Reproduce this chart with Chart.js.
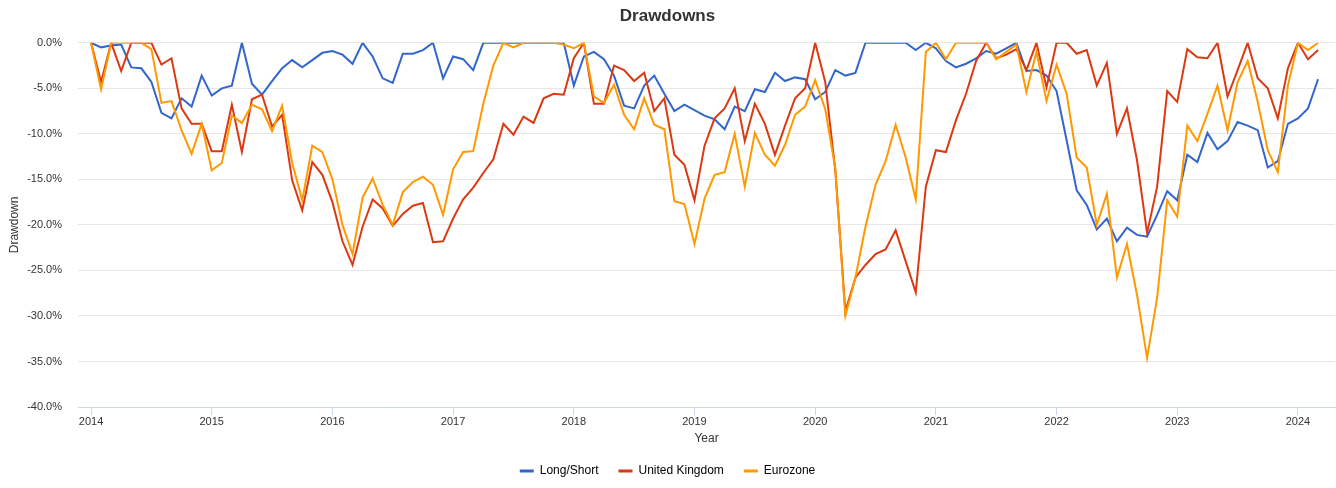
<!DOCTYPE html>
<html><head><meta charset="utf-8">
<script src="https://cdn.jsdelivr.net/npm/chart.js@4.4.1/dist/chart.umd.min.js"></script>
<style>html,body{margin:0;padding:0;background:#fff;}#wrap{width:1336px;height:488px;}</style>
</head><body><div id="wrap"><canvas id="c" width="1336" height="488"></canvas></div>
<script>
const startYear = 2014;
const yearTicks = [2014, 2015, 2016, 2017, 2018, 2019, 2020, 2021, 2022, 2023, 2024];
const yTicks = [0, -5, -10, -15, -20, -25, -30, -35, -40];
const seriesNames = ['Long/Short', 'United Kingdom', 'Eurozone'];

const longShort = [
  0, -0.5, -0.3, -0.2, -2.7, -2.8, -4.3, -7.7, -8.3, -6.1, -7.0, -3.6,
  -5.8, -5.0, -4.7, 0, -4.5, -5.7, -4.2, -2.8, -1.9, -2.7, -1.9, -1.1,
  -0.9, -1.3, -2.3, 0, -1.5, -3.9, -4.4, -1.2, -1.2, -0.8, 0, -3.9,
  -1.5, -1.8, -3.0, 0, 0, 0, 0, 0, 0, 0, 0, 0,
  -4.7, -1.5, -1.0, -1.8, -3.6, -6.9, -7.2, -4.7, -3.6, -5.6, -7.5, -6.8,
  -7.4, -8.0, -8.4, -9.5, -7.0, -7.5, -5.1, -5.4, -3.3, -4.2, -3.8, -4.0,
  -6.2, -5.4, -3.0, -3.6, -3.3, 0, 0, 0, 0, 0, -0.8, 0,
  -0.6, -2.0, -2.7, -2.3, -1.7, -0.9, -1.2, -0.6, 0, -3.1, -3.0, -3.6,
  -5.3, -10.7, -16.2, -17.8, -20.5, -19.3, -21.8, -20.3, -21.1, -21.3, -18.9, -16.3,
  -17.3, -12.3, -13.1, -9.9, -11.7, -10.8, -8.7, -9.1, -9.6, -13.7, -13.0, -8.9,
  -8.3, -7.2, -4.0
];
const unitedKingdom = [
  0, -4.3, 0, -3.1, 0, 0, 0, -2.4, -1.7, -7.2, -8.9, -8.9,
  -11.9, -11.9, -6.8, -12.0, -6.2, -5.7, -9.2, -7.9, -15.1, -18.4, -13.1, -14.5,
  -17.5, -21.8, -24.4, -20.2, -17.2, -18.2, -20.1, -18.8, -17.9, -17.6, -21.9, -21.8,
  -19.3, -17.2, -15.9, -14.3, -12.8, -8.9, -10.1, -8.1, -8.8, -6.1, -5.6, -5.7,
  -1.7, 0, -6.7, -6.7, -2.5, -3.0, -4.2, -3.3, -7.5, -6.1, -12.3, -13.4,
  -17.3, -11.3, -8.3, -7.2, -5.0, -10.8, -6.7, -8.9, -12.3, -9.1, -6.1, -5.0,
  0, -4.3, -14.0, -29.5, -25.8, -24.4, -23.2, -22.7, -20.6, -24.0, -27.4, -15.8,
  -11.8, -12.0, -8.5, -5.6, -2.0, 0, -1.7, -1.3, -0.7, -3.0, 0, -4.9,
  0, 0, -1.2, -0.8, -4.7, -2.2, -10.0, -7.2, -12.9, -20.9, -15.8, -5.3,
  -6.5, -0.7, -1.6, -1.7, 0, -5.9, -3.0, 0, -3.9, -5.0, -8.3, -2.8,
  0, -1.8, -0.8
];
const eurozone = [
  0, -5.1, 0, 0, 0, 0, -0.7, -6.6, -6.4, -9.6, -12.2, -8.9,
  -14.0, -13.2, -8.0, -8.8, -6.8, -7.3, -9.7, -6.9, -13.2, -17.3, -11.3, -12.0,
  -15.0, -20.0, -23.2, -17.0, -14.9, -17.8, -20.0, -16.4, -15.3, -14.7, -15.6, -18.9,
  -13.9, -12.0, -11.9, -6.7, -2.5, 0, -0.5, 0, 0, 0, 0, -0.2,
  -0.6, 0, -5.9, -6.6, -4.6, -7.9, -9.5, -6.1, -9.0, -9.5, -17.4, -17.7,
  -22.1, -17.1, -14.5, -14.2, -10.0, -15.8, -9.9, -12.3, -13.5, -11.2, -7.9, -7.0,
  -4.1, -7.3, -13.8, -30.0, -25.8, -20.2, -15.6, -13.0, -9.0, -12.6, -17.2, -1.0,
  0, -1.8, 0, 0, 0, 0, -1.8, -1.0, -0.2, -5.4, -1.0, -6.4,
  -2.4, -5.6, -12.6, -13.7, -20.0, -16.6, -25.8, -22.1, -27.7, -34.6, -28.0, -17.3,
  -19.1, -9.1, -10.8, -7.8, -4.7, -9.6, -4.3, -2.0, -6.5, -11.8, -14.2, -4.7,
  0, -0.8, 0
];
const seriesColors = ['#3366cc', '#dc3912', '#ff9900'];

const toPoints = arr => arr.map((v, i) => ({ x: startYear + i / 12, y: v }));
const allSeries = [longShort, unitedKingdom, eurozone];

Chart.defaults.font.family = '"Liberation Sans", Arial, Helvetica, sans-serif';
Chart.defaults.color = '#333333';

new Chart(document.getElementById('c'), {
  type: 'line',
  data: {
    datasets: allSeries.map((arr, k) => ({
      label: seriesNames[k],
      data: toPoints(arr),
      borderColor: seriesColors[k],
      backgroundColor: seriesColors[k],
      borderWidth: 2,
      pointRadius: 0,
      pointHoverRadius: 0,
      tension: 0,
      fill: false,
      order: allSeries.length - k
    }))
  },
  options: {
    responsive: false,
    animation: false,
    layout: { padding: { left: 0, right: 1, top: 0, bottom: 1 } },
    plugins: {
      title: {
        display: true,
        text: 'Drawdowns',
        color: '#333333',
        font: { size: 17, weight: 'bold' },
        padding: { top: 6, bottom: 16.4 }
      },
      legend: {
        position: 'bottom',
        labels: {
          boxWidth: 14,
          boxHeight: 3,
          padding: 20,
          color: '#333333',
          font: { size: 12 },
          generateLabels: chart => chart.data.datasets.map((d, i) => ({
            text: d.label, fillStyle: d.borderColor, strokeStyle: d.borderColor,
            lineWidth: 0, hidden: false, datasetIndex: i
          }))
        }
      },
      tooltip: { enabled: false }
    },
    scales: {
      x: {
        type: 'linear',
        min: 2013.892,
        max: 2024.307,
        afterBuildTicks: s => { s.ticks = yearTicks.map(v => ({ value: v })); },
        afterFit: s => { s.height = 38; },
        ticks: { callback: v => String(v), color: '#333333', font: { size: 11 }, padding: 0, maxRotation: 0, autoSkip: false },
        grid: { drawOnChartArea: false, drawTicks: true, tickLength: 8, color: '#ccd6eb' },
        border: { display: true, color: '#ccd6eb', width: 1 },
        title: { display: true, text: 'Year', color: '#333333', font: { size: 12 }, padding: { top: 0, bottom: -1 } }
      },
      y: {
        type: 'linear',
        min: -40,
        max: 0,
        afterBuildTicks: s => { s.ticks = yTicks.map(v => ({ value: v })); },
        afterFit: s => { s.width = 78; },
        ticks: { callback: v => v.toFixed(1) + '%', color: '#333333', font: { size: 11 }, padding: 16 },
        grid: { drawTicks: false, color: '#e6e6e6', lineWidth: 1 },
        border: { display: false },
        title: { display: true, text: 'Drawdown', color: '#333333', font: { size: 12 }, padding: { top: 7, bottom: 0 } }
      }
    }
  }
});
</script>
</body></html>
